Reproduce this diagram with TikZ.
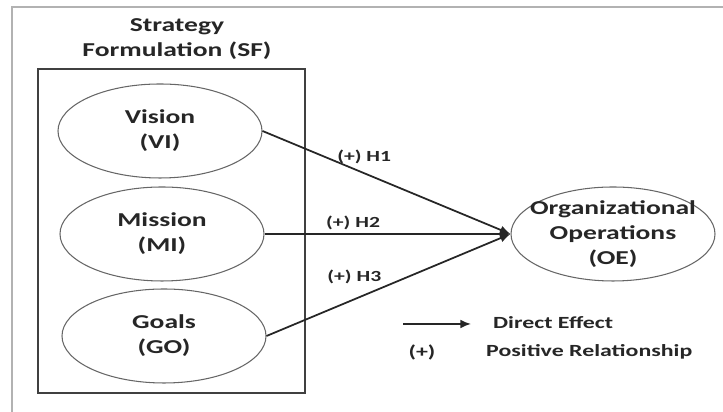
\documentclass[tikz,border=0pt]{standalone}
\usepackage{fontspec}
\setmainfont{Carlito}[FakeStretch=1.4]
\usetikzlibrary{arrows.meta, positioning, shapes.geometric}
\tikzset{
  construct/.style={ellipse, draw=black!60, line width=0.6pt, inner sep=0pt,
                 minimum width=4.08cm, minimum height=1.88cm, align=center,
                 font=\fontsize{11.2}{14.2}\selectfont\bfseries, text=black!85},
  outcome/.style={construct, inner xsep=-8pt, inner ysep=-1pt},
  groupbox/.style={draw=black!75, line width=1.1pt, inner sep=0pt,
                 minimum width=5.34cm, minimum height=6.48cm},
  grouptitle/.style={align=center, font=\fontsize{11.2}{14.2}\selectfont\bfseries,
                 text=black!85},
  diredge/.style={line width=1pt, draw=black!85, -{Latex[length=6pt, width=5pt]}},
  hyplabel/.style={font=\fontsize{8.8}{10}\selectfont\bfseries, text=black!85,
                 inner sep=1pt},
  legendtext/.style={font=\fontsize{9.7}{12}\selectfont\bfseries, text=black!85},
  frame/.style={draw=black!30, line width=0.9pt},
}

\begin{document}
\begin{tikzpicture}
    \useasboundingbox (0,0) rectangle (14.46,8.24);
    % Outer frame
    \coordinate (fb) at (0.24,0);
    \coordinate (ftl) at (0.24,8.10);
    \coordinate (ftr) at (14.46,8.10);
    \draw[frame] (fb) -- (ftl) -- (ftr);
    % Strategy formulation block
    \node[groupbox] (sf) at (3.43,3.62) {};
    \node[grouptitle] (sftitle) at (3.54,7.45) {Strategy\\Formulation (SF)};
    \node[construct] (vi) at (3.20,5.62) {Vision\\(VI)};
    \node[construct] (mi) at (3.24,3.56) {Mission\\(MI)};
    \node[construct] (go) at (3.28,1.52) {Goals\\(GO)};
    % Outcome
    \node[outcome] (oe) at (12.26,3.56) {Organizational\\Operations\\(OE)};
    % Hypothesised paths
    \draw[diredge] (vi.east) -- (oe.west)
      node[hyplabel, pos=0.41, above=4pt] (h1) {(+) H1};
    \draw[diredge] (mi.east) -- (oe.west)
      node[hyplabel, pos=0.36, above=1pt] (h2) {(+) H2};
    \draw[diredge] (go.east) -- (oe.west)
      node[hyplabel, pos=0.36, above=7pt] (h3) {(+) H3};
    % Legend
    \coordinate (la) at (8.06,1.76);
    \coordinate (lb) at (9.42,1.76);
    \draw[diredge] (la) -- (lb);
    \node[legendtext, anchor=west] (ldirect) at (9.74,1.78) {Direct Effect};
    \node[legendtext] (lplus) at (8.44,1.20) {(+)};
    \node[legendtext, anchor=west] (lpos) at (9.60,1.20) {Positive Relationship};
  \end{tikzpicture}
\end{document}
